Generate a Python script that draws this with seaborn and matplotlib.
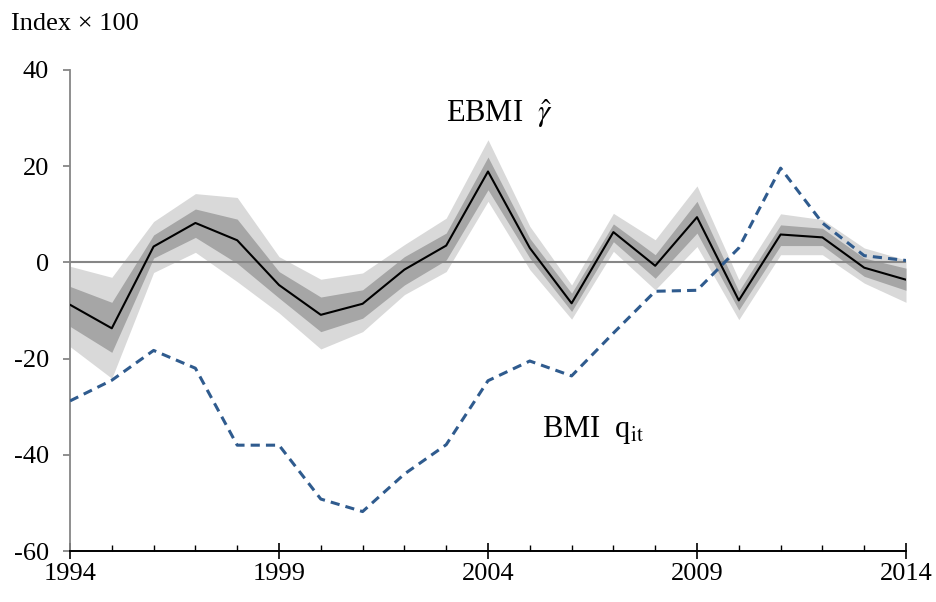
import numpy as np
import pandas as pd
import matplotlib
matplotlib.use("Agg")
import matplotlib.pyplot as plt
from matplotlib.ticker import MultipleLocator
import seaborn as sns

years = list(range(1994, 2015))

# EBMI point estimate (index x 100)
ebmi = [-8.8, -13.7, 3.3, 8.2, 4.6, -4.7, -10.9, -8.6, -1.5, 3.5, 18.9,
        3.0, -8.5, 6.3, -0.7, 9.4, -7.9, 5.8, 5.2, -1.1, -3.6]

# inner confidence band
inner_hi = [-5.0, -8.3, 5.7, 11.1, 9.0, -1.9, -7.2, -5.7, 1.2, 6.1, 21.9,
            5.0, -6.4, 8.0, 1.6, 12.7, -6.0, 7.8, 7.1, 0.9, -1.2]
inner_lo = [-13.3, -18.7, 0.9, 5.2, -0.2, -7.4, -14.4, -11.6, -4.7, 0.5, 15.1,
            0.9, -10.2, 4.3, -3.3, 6.1, -9.9, 3.5, 3.5, -2.9, -5.8]

# outer confidence band
outer_hi = [-0.8, -3.1, 8.5, 14.3, 13.5, 1.2, -3.5, -2.2, 3.7, 9.2, 25.5,
            7.5, -4.7, 10.2, 4.7, 15.9, -3.6, 10.1, 8.9, 3.0, 0.5]
outer_lo = [-17.5, -24.1, -2.1, 2.1, -4.0, -10.5, -18.0, -14.4, -6.7, -1.9, 12.7,
            -1.5, -11.8, 2.3, -5.7, 3.3, -11.9, 1.6, 1.6, -4.3, -8.3]

# BMI q_it series
bmi = [-28.8, -24.5, -18.3, -22.0, -38.0, -38.0, -49.2, -51.8, -44.0, -37.9, -24.6,
       -20.5, -23.6, -14.7, -6.0, -5.8, 3.0, 19.6, 8.2, 1.4, 0.4]

y_ticks = [-60, -40, -20, 0, 20, 40]
x_ticks = [1994, 1999, 2004, 2009, 2014]

df = pd.DataFrame({"year": years, "ebmi": ebmi, "bmi": bmi})

sns.set_style("white")
plt.rcParams["font.family"] = ["Liberation Serif", "DejaVu Serif"]
plt.rcParams["mathtext.fontset"] = "stix"
plt.rcParams["text.color"] = "black"
plt.rcParams["xtick.labelcolor"] = "black"
plt.rcParams["ytick.labelcolor"] = "black"

fig = plt.figure(figsize=(9.36, 6.02), dpi=100)
ax = fig.add_axes([70 / 936, 51 / 602, 836 / 936, 481 / 602])

ax.fill_between(years, outer_lo, outer_hi, color="#d9d9d9", lw=0, zorder=1)
ax.fill_between(years, inner_lo, inner_hi, color="#a6a6a6", lw=0, zorder=2)
ax.axhline(0, color="#868686", lw=1.5, zorder=3)

sns.lineplot(data=df, x="year", y="ebmi", ax=ax, color="black", lw=1.5,
             zorder=5, legend=False)
sns.lineplot(data=df, x="year", y="bmi", ax=ax, color="#2f5b8e", lw=2.2,
             zorder=4, legend=False)
ax.lines[-1].set_dashes([3, 2])

ax.set_xlim(1994, 2014)
ax.set_ylim(-60, 40)
ax.set_xlabel("")
ax.set_ylabel("")
ax.set_xticks(x_ticks)
ax.set_xticklabels([str(t) for t in x_ticks])
ax.xaxis.set_minor_locator(MultipleLocator(1))
ax.set_yticks(y_ticks)
ax.set_yticklabels([str(t) for t in y_ticks])

for side in ("top", "right"):
    ax.spines[side].set_visible(False)
ax.spines["left"].set_color("#868686")
ax.spines["left"].set_linewidth(1.3)
ax.spines["bottom"].set_color("black")
ax.spines["bottom"].set_linewidth(1.4)

ax.tick_params(axis="y", which="major", direction="out", length=5, width=1.3,
               color="#868686", labelcolor="black", labelsize=19, pad=10,
               left=True)
ax.tick_params(axis="x", which="major", direction="inout", length=11.5,
               width=1.2, color="black", labelcolor="black", labelsize=19,
               pad=3, bottom=True)
ax.tick_params(axis="x", which="minor", direction="in", length=4.5, width=1.0,
               color="black", bottom=True)

ax.text(2003.0, 29.1, r"EBMI  $\hat{\gamma}$", fontsize=22, ha="left",
        va="baseline", color="black")
ax.text(2005.29, -36.3, r"BMI  q$_{\mathrm{it}}$", fontsize=22, ha="left",
        va="baseline", color="black")

fig.text(11 / 936, 1 - 29.5 / 602, "Index \u00d7 100", fontsize=19,
         ha="left", va="baseline", color="black")

fig.savefig("out.png", dpi=100)
